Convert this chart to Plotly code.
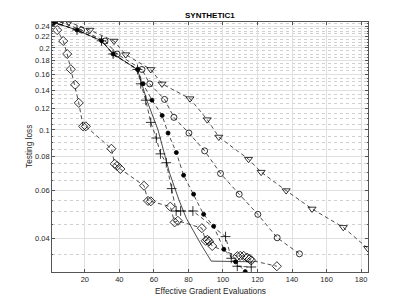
import plotly.graph_objects as go
import numpy as np

# ---- data ----
tri_x = [1.5, 10.75, 22.9, 36.9, 43.7, 58.2, 64.7, 80.9, 90.9, 97.6, 114.8, 122.1, 136.6, 151.6, 169.7, 183.8]
tri_y = [0.249, 0.249, 0.2326, 0.212, 0.189, 0.1667, 0.1476, 0.1303, 0.1091, 0.0942, 0.0781, 0.070, 0.0599, 0.0513, 0.0439, 0.0368]

circ_x = [1.5, 5.7, 18.1, 31.7, 38.7, 53.1, 57.6, 66.2, 71.6, 80.3, 89.4, 98.6, 109.4, 120.2, 131.4, 144.3]
circ_y = [0.249, 0.249, 0.2326, 0.212, 0.190, 0.1667, 0.1476, 0.1294, 0.1112, 0.0974, 0.0838, 0.0692, 0.0581, 0.049, 0.0402, 0.0351]

dot_x = [1.5, 15.5, 29.7, 36.4, 50.5, 53.7, 58.9, 64.8, 68.2, 73.0, 77.2, 83.0, 88.8, 94.6, 100.5, 107.3, 112.9]
dot_y = [0.249, 0.2326, 0.2124, 0.190, 0.1667, 0.1477, 0.1286, 0.113, 0.0974, 0.0826, 0.0682, 0.0581, 0.049, 0.0443, 0.0365, 0.0328, 0.0302]

plus_x = [1.5, 15.5, 29.7, 36.4, 50.5, 52.4, 55.3, 58.2, 61.4, 63.8, 67.2, 70.3, 72.9, 75.5, 82.6, 101.5, 104.8, 108.3, 116.4]
plus_y = [0.249, 0.2326, 0.2124, 0.190, 0.1667, 0.1477, 0.1286, 0.1066, 0.0934, 0.0817, 0.0758, 0.0609, 0.0504, 0.0504, 0.0504, 0.0406, 0.0338, 0.0316, 0.0314]

solid_x = [1.5, 15.5, 29.7, 36.4, 50.5, 56.0, 62.4, 65.3, 69.1, 74.5, 78.8, 87.5, 93.2, 118.0]
solid_y = [0.249, 0.2326, 0.2124, 0.190, 0.1667, 0.128, 0.100, 0.0845, 0.0694, 0.0554, 0.0474, 0.0378, 0.033, 0.0328]

dia_x = [1.5, 4.0, 7.5, 9.8, 11.9, 14.4, 16.5, 19.0, 20.6, 35.4, 37.3, 38.7, 40.6, 54.3, 56.6, 58.2, 69.5, 72.0, 73.9,
         87.8, 90.0, 91.0, 92.0, 93.8, 108.3, 110.0, 112.0, 114.0, 115.5, 116.4, 131.2]
dia_y = [0.249, 0.2326, 0.212, 0.190, 0.167, 0.1464, 0.1257, 0.1031, 0.1031, 0.0853, 0.0751, 0.0738, 0.0719, 0.0624, 0.0549, 0.0547, 0.0523, 0.0458, 0.0464,
         0.0436, 0.0392, 0.0395, 0.039, 0.0375, 0.0344, 0.0345, 0.0345, 0.034, 0.0336, 0.0332, 0.0316]

x_ticks = [20, 40, 60, 80, 100, 120, 140, 160, 180]
y_ticks = [0.04, 0.06, 0.08, 0.1, 0.12, 0.14, 0.16, 0.18, 0.2, 0.22, 0.24]
y_tick_text = ["0.04", "0.06", "0.08", "0.1", "0.12", "0.14", "0.16", "0.18", "0.2", "0.22", "0.24"]
y_minor = [0.030, 0.035, 0.045, 0.050, 0.055, 0.065, 0.070, 0.075, 0.085, 0.090, 0.095,
           0.105, 0.110, 0.115, 0.125, 0.130, 0.135, 0.145, 0.150, 0.155, 0.165, 0.170, 0.175,
           0.185, 0.190, 0.195, 0.205, 0.210, 0.215, 0.225, 0.230, 0.235, 0.245]

title = "SYNTHETIC1"
x_label = "Effective Gradient Evaluations"
y_label = "Testing loss"

FONT = "Liberation Sans, Arial, sans-serif"
fig = go.Figure()
DASH = "4px,3px"
LW = 0.7
MS = 6

def add(x, y, symbol, dash=DASH, size=MS, mode="lines+markers"):
    fig.add_trace(go.Scatter(
        x=x, y=y, mode=mode,
        line=dict(color="black", width=LW, dash=dash),
        marker=dict(symbol=symbol, size=size, color="black",
                    line=dict(color="black", width=0.8)),
        showlegend=False, hoverinfo="skip"))

add(solid_x, solid_y, "circle", dash="solid", mode="lines")
add(tri_x, tri_y, "triangle-down-open", size=7)
add(circ_x, circ_y, "circle-open")
add(dot_x, dot_y, "circle", size=4)
add(plus_x, plus_y, "cross-thin-open", size=7)
add(dia_x, dia_y, "diamond-open", size=7)

axis_common = dict(
    showline=True, linecolor="#555555", linewidth=0.8, mirror="ticks",
    ticks="inside", ticklen=3, tickcolor="#555555",
    showgrid=True, gridcolor="#e0e0e0", gridwidth=1,
    zeroline=False, automargin=False,
    tickfont=dict(family=FONT, size=7.5, color="#262626"),
)

L, R, T, B = 52, 39, 22, 34
PW, PH = 407 - L - R, 306 - T - B

fig.update_layout(
    width=407, height=306,
    margin=dict(l=L, r=R, t=T, b=B),
    paper_bgcolor="white", plot_bgcolor="white",
    xaxis=dict(range=[1, 184], tickvals=x_ticks, **axis_common),
    yaxis=dict(type="log", range=[np.log10(0.0301), np.log10(0.249)],
               tickvals=y_ticks, ticktext=y_tick_text,
               minor=dict(tickvals=y_minor, showgrid=True, gridcolor="#d0d0d0", gridwidth=0.8,
                          griddash="dot", ticks="inside", ticklen=1.5, tickcolor="#555555"),
               **axis_common),
    annotations=[
        dict(text="<b>" + title + "</b>", xref="paper", yref="paper",
             x=0.5, y=1 + (T - 15.7) / PH, xanchor="center", yanchor="middle",
             showarrow=False, font=dict(family=FONT, size=8, color="black")),
        dict(text=x_label, xref="paper", yref="paper",
             x=0.5, y=-(291 - (306 - B)) / PH, xanchor="center", yanchor="middle",
             showarrow=False, font=dict(family=FONT, size=8.3, color="#262626")),
        dict(text=y_label, xref="paper", yref="paper", textangle=-90,
             x=(29 - L) / PW, y=0.5, xanchor="center", yanchor="middle",
             showarrow=False, font=dict(family=FONT, size=8.3, color="#262626")),
    ],
)

fig.write_html("out.html", config={"displayModeBar": False},
               post_script="document.body.style.margin='0';document.body.style.padding='0';")
